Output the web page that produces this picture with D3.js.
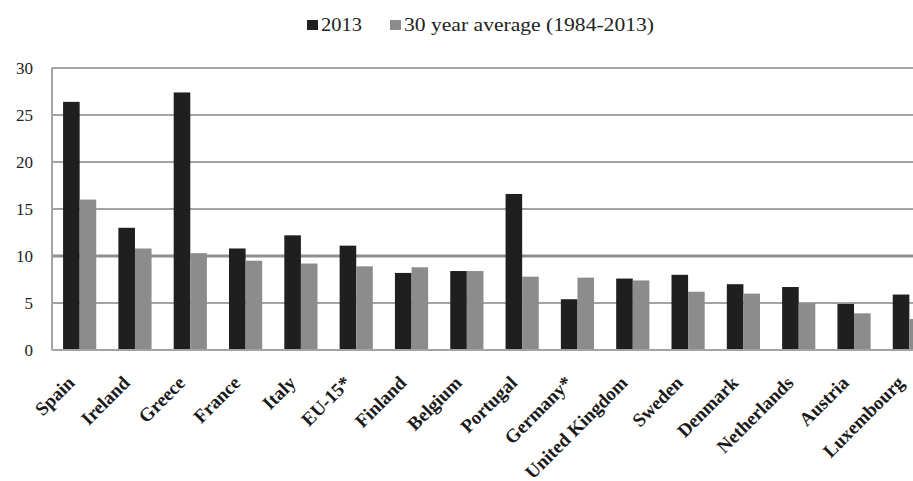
<!DOCTYPE html>
<meta charset="utf-8">
<style>
  body { margin: 0; background: #fff; }
  .tick-label { font-family: "Liberation Serif", serif; font-size: 17px; fill: #222; }
  .cat-label { font-family: "Liberation Serif", serif; font-size: 19px; font-weight: bold; fill: #1a1a1a; }
  .legend-text { font-family: "Liberation Serif", serif; font-size: 19px; fill: #222; }
</style>
<body>
<div id="chart"></div>
<script src="https://d3js.org/d3.v7.min.js"></script>
<script>
  const countries = ["Spain", "Ireland", "Greece", "France", "Italy", "EU-15*", "Finland", "Belgium",
    "Portugal", "Germany*", "United Kingdom", "Sweden", "Denmark", "Netherlands", "Austria", "Luxembourg"];
  const values2013 = [26.4, 13.0, 27.4, 10.8, 12.2, 11.1, 8.2, 8.4, 16.6, 5.4, 7.6, 8.0, 7.0, 6.7, 4.9, 5.9];
  const valuesAvg = [16.0, 10.8, 10.3, 9.5, 9.2, 8.9, 8.8, 8.4, 7.8, 7.7, 7.4, 6.2, 6.0, 5.0, 3.9, 3.3];
  const yTicks = [0, 5, 10, 15, 20, 25, 30];
  const seriesNames = ["2013", "30 year average (1984-2013)"];
  const seriesColors = ["#1f1f1f", "#8c8c8c"];

  const width = 913, height = 481;
  const plot = { left: 52, right: 937, top: 68, bottom: 350 };

  const svg = d3.select("#chart").append("svg")
    .attr("width", width)
    .attr("height", height);

  const x0 = d3.scaleBand()
    .domain(countries)
    .range([plot.left, plot.right])
    .paddingInner(0.4)
    .paddingOuter(0.2);

  const x1 = d3.scaleBand()
    .domain([0, 1])
    .range([0, x0.bandwidth()]);

  const y = d3.scaleLinear()
    .domain([0, 30])
    .range([plot.bottom, plot.top]);

  // grid lines
  svg.append("g")
    .selectAll("line")
    .data(yTicks.filter(d => d > 0))
    .join("line")
    .attr("x1", plot.left)
    .attr("x2", width)
    .attr("y1", d => y(d))
    .attr("y2", d => y(d))
    .attr("stroke", d => d === 10 ? "#8f8f8f" : "#a3a3a3")
    .attr("stroke-width", d => d === 10 ? 3 : 2);

  // y tick labels
  svg.append("g")
    .selectAll("text")
    .data(yTicks)
    .join("text")
    .attr("class", "tick-label")
    .attr("x", 33)
    .attr("y", d => y(d))
    .attr("dy", "0.35em")
    .attr("text-anchor", "end")
    .text(d => d);

  // bars
  const rows = countries.map((c, i) => ({ country: c, vals: [values2013[i], valuesAvg[i]] }));

  const groups = svg.append("g")
    .selectAll("g")
    .data(rows)
    .join("g")
    .attr("transform", d => `translate(${x0(d.country)},0)`);

  groups.selectAll("rect")
    .data(d => d.vals.map((v, k) => ({ k, v })))
    .join("rect")
    .attr("x", d => x1(d.k))
    .attr("width", x1.bandwidth())
    .attr("y", d => y(d.v))
    .attr("height", d => y(0) - y(d.v))
    .attr("fill", d => seriesColors[d.k]);

  // axis lines
  svg.append("line")
    .attr("x1", plot.left).attr("x2", plot.left)
    .attr("y1", plot.top).attr("y2", plot.bottom)
    .attr("stroke", "#a3a3a3").attr("stroke-width", 2);

  svg.append("line")
    .attr("x1", plot.left).attr("x2", width)
    .attr("y1", plot.bottom).attr("y2", plot.bottom)
    .attr("stroke", "#a3a3a3").attr("stroke-width", 2);

  // category labels, rotated
  svg.append("g")
    .selectAll("text")
    .data(countries)
    .join("text")
    .attr("class", "cat-label")
    .attr("text-anchor", "end")
    .attr("transform", d => `translate(${x0(d) + x0.bandwidth() / 2 - 4},384) rotate(-45)`)
    .text(d => d);

  // legend
  const legendX = [307, 390];
  const legendLen = [41, 250];
  const legend = svg.append("g")
    .selectAll("g")
    .data(seriesNames)
    .join("g")
    .attr("transform", (d, i) => `translate(${legendX[i]},0)`);

  legend.append("rect")
    .attr("x", 0)
    .attr("y", 20)
    .attr("width", 11)
    .attr("height", 10)
    .attr("fill", (d, i) => seriesColors[i]);

  legend.append("text")
    .attr("class", "legend-text")
    .attr("x", 14)
    .attr("y", 31)
    .attr("textLength", (d, i) => legendLen[i])
    .attr("lengthAdjust", "spacingAndGlyphs")
    .text(d => d);
</script>
</body>
</html>
